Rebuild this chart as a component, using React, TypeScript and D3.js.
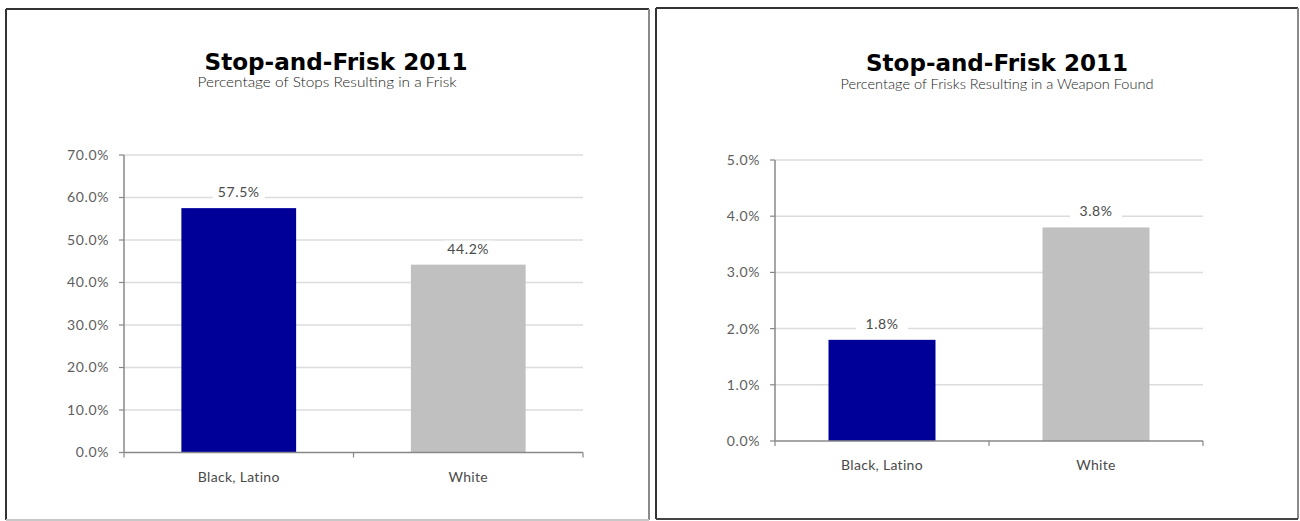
import React from "react";
import * as d3 from "d3";

const categories = ["Black, Latino", "White"];
const friskRates = [57.5, 44.2];
const weaponRates = [1.8, 3.8];
const friskTicks = [0, 10, 20, 30, 40, 50, 60, 70];
const weaponTicks = [0, 1, 2, 3, 4, 5];
const barColors = ["#000099", "#c0c0c0"];
const titleText = "Stop-and-Frisk 2011";
const subtitles = [
  "Percentage of Stops Resulting in a Frisk",
  "Percentage of Frisks Resulting in a Weapon Found",
];

const FONT = "Lato, 'DejaVu Sans', sans-serif";
const LS = 0.6;

type PanelProps = {
  frame: { x0: number; y0: number; x1: number; y1: number; bottomDark: boolean };
  plot: { left: number; right: number; top: number; bottom: number };
  values: number[];
  ticks: number[];
  title: { cx: number; y: number; w: number };
  subtitle: { text: string; cx: number; y: number; w: number };
};

function Panel({ frame, plot, values, ticks, title, subtitle }: PanelProps) {
  const yMax = ticks[ticks.length - 1];
  const y = d3.scaleLinear().domain([0, yMax]).range([plot.bottom, plot.top]);
  const x = d3
    .scaleBand<string>()
    .domain(categories)
    .range([plot.left, plot.right])
    .paddingInner(0.5)
    .paddingOuter(0.25);
  const step = x.step();
  const boundaries = [plot.left, plot.left + step, plot.right];
  return (
    <g>
      {/* frame */}
      <line x1={frame.x0} y1={frame.y0} x2={frame.x1} y2={frame.y0} stroke="#333" strokeWidth={2} />
      <line x1={frame.x0} y1={frame.y0} x2={frame.x0} y2={frame.y1} stroke="#333" strokeWidth={2} />
      <line x1={frame.x1} y1={frame.y0} x2={frame.x1} y2={frame.y1} stroke="#8a8a8a" strokeWidth={2} />
      <line
        x1={frame.x0}
        y1={frame.y1}
        x2={frame.x1}
        y2={frame.y1}
        stroke={frame.bottomDark ? "#444" : "#c8c8c8"}
        strokeWidth={2}
      />
      {/* titles */}
      <text
        x={title.cx}
        y={title.y}
        textAnchor="middle"
        fontFamily="'DejaVu Sans', sans-serif"
        fontWeight="bold"
        fontSize={23}
        fill="#000"
        textLength={title.w}
        lengthAdjust="spacingAndGlyphs"
      >
        {titleText}
      </text>
      <text
        x={subtitle.cx}
        y={subtitle.y}
        textAnchor="middle"
        fontFamily={FONT}
        fontWeight={300}
        fontSize={13}
        fill="#1a1a1a"
        textLength={subtitle.w}
        lengthAdjust="spacingAndGlyphs"
      >
        {subtitle.text}
      </text>
      {/* gridlines */}
      {ticks
        .filter((t) => t > 0)
        .map((t) => (
          <line
            key={"g" + t}
            x1={plot.left}
            x2={plot.right}
            y1={y(t)}
            y2={y(t)}
            stroke="#dcdcdc"
            strokeWidth={1.5}
          />
        ))}
      {/* y ticks and labels */}
      {ticks.map((t) => (
        <g key={"t" + t}>
          <line x1={plot.left - 5} x2={plot.left} y1={y(t)} y2={y(t)} stroke="#888" strokeWidth={1.2} />
          <text
            x={plot.left - 15}
            y={y(t)}
            dy="0.35em"
            textAnchor="end"
            fontFamily={FONT}
            fontSize={14}
            letterSpacing={LS}
            fill="#5e5e5e"
          >
            {t.toFixed(1) + "%"}
          </text>
        </g>
      ))}
      {/* bars */}
      {values.map((v, i) => (
        <rect
          key={"b" + i}
          x={x(categories[i])}
          y={y(v)}
          width={x.bandwidth()}
          height={plot.bottom - y(v)}
          fill={barColors[i]}
        />
      ))}
      {/* data labels */}
      {values.map((v, i) => {
        const cx = (x(categories[i]) as number) + x.bandwidth() / 2;
        const cy = y(v) - 16;
        return (
          <g key={"l" + i}>
            <rect x={cx - 26} y={cy - 8} width={52} height={16} fill="#fff" />
            <text
              x={cx}
              y={cy}
              dy="0.35em"
              textAnchor="middle"
              fontFamily={FONT}
              fontSize={14}
              letterSpacing={LS}
              fill="#4a4a4a"
            >
              {v.toFixed(1) + "%"}
            </text>
          </g>
        );
      })}
      {/* axes */}
      <line x1={plot.left} x2={plot.left} y1={plot.top} y2={plot.bottom} stroke="#888" strokeWidth={1.5} />
      <line x1={plot.left} x2={plot.right} y1={plot.bottom} y2={plot.bottom} stroke="#888" strokeWidth={1.5} />
      {boundaries.map((bx, i) => (
        <line key={"xt" + i} x1={bx} x2={bx} y1={plot.bottom} y2={plot.bottom + 5} stroke="#888" strokeWidth={1.2} />
      ))}
      {categories.map((c) => (
        <text
          key={c}
          x={(x(c) as number) + x.bandwidth() / 2}
          y={plot.bottom + 29}
          textAnchor="middle"
          fontFamily={FONT}
          fontSize={14}
          letterSpacing={0.3}
          fill="#4a4a4a"
        >
          {c}
        </text>
      ))}
    </g>
  );
}

export default function App() {
  return (
    <svg
      width={1300}
      height={521}
      style={{ position: "absolute", left: 0, top: 0, background: "#fff" }}
    >
      <rect x={0} y={0} width={1300} height={521} fill="#fff" />
      <Panel
        frame={{ x0: 6, y0: 9, x1: 649, y1: 520, bottomDark: false }}
        plot={{ left: 124, right: 583, top: 155, bottom: 452.5 }}
        values={friskRates}
        ticks={friskTicks}
        title={{ cx: 336, y: 70, w: 263 }}
        subtitle={{ text: subtitles[0], cx: 327, y: 87, w: 259 }}
      />
      <Panel
        frame={{ x0: 656, y0: 8, x1: 1298, y1: 519, bottomDark: true }}
        plot={{ left: 775, right: 1203, top: 160, bottom: 441 }}
        values={weaponRates}
        ticks={weaponTicks}
        title={{ cx: 997, y: 71, w: 262 }}
        subtitle={{ text: subtitles[1], cx: 997, y: 89, w: 313 }}
      />
    </svg>
  );
}
